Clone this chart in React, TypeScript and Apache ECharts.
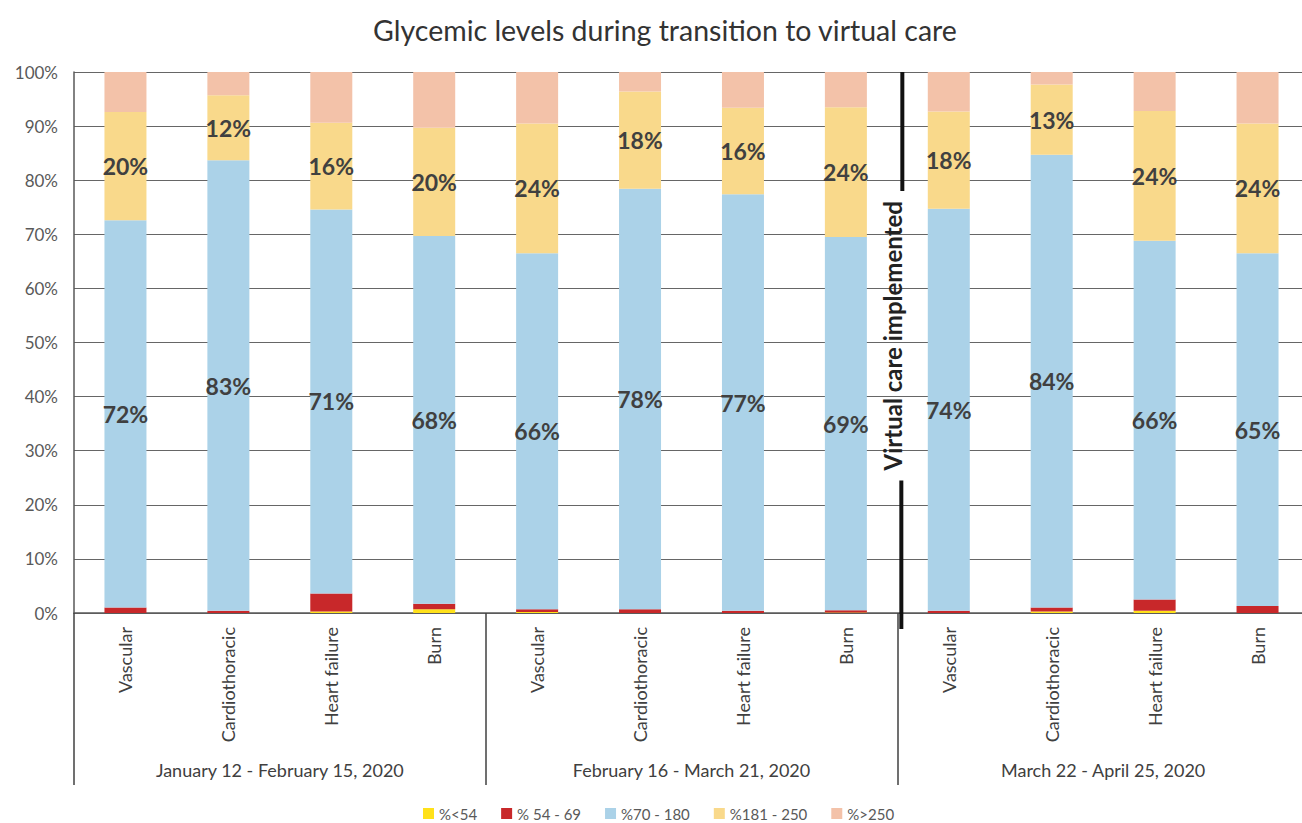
import React, { useEffect, useRef } from "react";
import * as echarts from "echarts";

const title = "Glycemic levels during transition to virtual care";
const categories = ["Vascular", "Cardiothoracic", "Heart failure", "Burn"];
const periods = [
  "January 12 - February 15, 2020",
  "February 16 - March 21, 2020",
  "March 22 - April 25, 2020",
];
const seriesNames = ["%<54", "% 54 - 69", "%70 - 180", "%181 - 250", "%>250"];
const seriesColors = ["#FFE11A", "#C8282A", "#ABD2E8", "#F9D98B", "#F3C2A9"];
const yTicks = [0, 10, 20, 30, 40, 50, 60, 70, 80, 90, 100];

// values in %, 12 bars: 3 periods x 4 units
const below54 = [0, 0, 0.3, 0.7, 0.2, 0, 0, 0.1, 0, 0.3, 0.4, 0];
const range54to69 = [1.0, 0.4, 3.3, 1.0, 0.5, 0.7, 0.4, 0.4, 0.4, 0.7, 2.1, 1.3];
const range70to180 = [71.6, 83.3, 71.0, 68.0, 65.8, 77.7, 77.0, 69.0, 74.3, 83.7, 66.3, 65.2];
const range181to250 = [20.0, 12.0, 16.0, 20.0, 24.0, 18.0, 16.0, 24.0, 18.0, 13.0, 24.0, 24.0];
const above250 = [7.4, 4.3, 9.4, 10.3, 9.5, 3.6, 6.6, 6.5, 7.3, 2.3, 7.2, 9.5];

const annotationText = "Virtual care implemented";

const FONT = "Lato, 'Open Sans', sans-serif";

export default function App() {
  const ref = useRef<HTMLDivElement>(null);

  useEffect(() => {
    if (!ref.current) return;
    document.body.style.overflow = "hidden";
    const chart = echarts.init(ref.current, undefined, { renderer: "svg" });

    const axisData: string[] = [];
    periods.forEach((_, p) =>
      categories.forEach((c) => axisData.push(c + "#" + p))
    );

    const values = [below54, range54to69, range70to180, range181to250, above250];
    const labelled = [false, false, true, true, false];

    const series = seriesNames.map((name, i) => ({
      name,
      type: "bar",
      stack: "total",
      xAxisIndex: 0,
      yAxisIndex: 0,
      barWidth: 42,
      itemStyle: { color: seriesColors[i] },
      label: labelled[i]
        ? {
            show: true,
            position: "inside",
            formatter: (p: any) => Math.round(p.value) + "%",
            color: "#404040",
            fontFamily: FONT,
            fontWeight: "bold",
            fontSize: 23,
            textBorderWidth: 0,
          }
        : { show: false },
      emphasis: { disabled: true },
      data: values[i],
    }));

    chart.setOption({
      animation: false,
      backgroundColor: "#ffffff",
      textStyle: { fontFamily: FONT },
      legend: {
        data: seriesNames,
        top: 801,
        left: 418,
        icon: "rect",
        itemWidth: 11,
        itemHeight: 11,
        itemGap: 24,
        textStyle: { fontSize: 15, color: "#595959", fontFamily: FONT },
      },
      grid: { left: 74, right: 0, top: 72, bottom: 210, containLabel: false },
      xAxis: [
        {
          type: "category",
          data: axisData,
          position: "bottom",
          axisLine: { show: true, lineStyle: { color: "#595959", width: 1.5 } },
          axisTick: { show: false },
          axisLabel: {
            interval: 0,
            rotate: 90,
            margin: 14,
            fontSize: 18,
            color: "#404040",
            fontFamily: FONT,
            formatter: (v: string) => v.split("#")[0],
          },
        },
        {
          type: "category",
          data: periods,
          position: "bottom",
          axisLine: { show: false },
          axisTick: {
            show: true,
            length: 172,
            lineStyle: { color: "#404040", width: 1.5 },
          },
          axisLabel: {
            interval: 0,
            margin: 148,
            fontSize: 18,
            color: "#404040",
            fontFamily: FONT,
          },
        },
      ],
      yAxis: {
        type: "value",
        min: yTicks[0],
        max: yTicks[yTicks.length - 1],
        interval: 10,
        axisLine: { show: true, lineStyle: { color: "#595959", width: 1.5 } },
        axisTick: { show: false },
        splitLine: { show: true, lineStyle: { color: "#666666", width: 1 } },
        axisLabel: {
          formatter: "{value}%",
          fontSize: 17,
          color: "#595959",
          margin: 16,
          fontFamily: FONT,
        },
      },
      series,
    });

    const x7 = chart.convertToPixel({ xAxisIndex: 0 }, 7) as number;
    const x8 = chart.convertToPixel({ xAxisIndex: 0 }, 8) as number;
    const lineX = (x7 + x8) / 2 + 5;
    const yTop = chart.convertToPixel({ yAxisIndex: 0 }, 100) as number;
    const yBottom = chart.convertToPixel({ yAxisIndex: 0 }, 0) as number;
    const yBreakTop = chart.convertToPixel({ yAxisIndex: 0 }, 78) as number;
    const yBreakBottom = chart.convertToPixel({ yAxisIndex: 0 }, 24.5) as number;
    const yMid = (yBreakTop + yBreakBottom) / 2;

    chart.setOption({
      graphic: [
        {
          type: "text",
          x: 665,
          y: 30,
          style: {
            text: title,
            fontSize: 28.5,
            fontFamily: FONT,
            fill: "#333333",
            textAlign: "center",
            textVerticalAlign: "middle",
          },
        },
        {
          type: "line",
          shape: { x1: lineX, y1: yTop, x2: lineX, y2: yBreakTop },
          style: { stroke: "#111111", lineWidth: 4 },
          z: 10,
        },
        {
          type: "line",
          shape: { x1: lineX - 1, y1: yBreakBottom, x2: lineX - 1, y2: yBottom + 16 },
          style: { stroke: "#111111", lineWidth: 4 },
          z: 10,
        },
        {
          type: "text",
          x: lineX - 10,
          y: yMid,
          rotation: Math.PI / 2,
          style: {
            text: annotationText,
            fontSize: 24,
            fontWeight: "bold",
            fontFamily: FONT,
            fill: "#222222",
            textAlign: "center",
            textVerticalAlign: "middle",
          },
          z: 10,
        },
      ],
    });

    return () => {
      chart.dispose();
      document.body.style.overflow = "";
    };
  }, []);

  return (
    <div
      ref={ref}
      style={{ position: "fixed", left: 0, top: 0, width: 1309, height: 823 }}
    />
  );
}
